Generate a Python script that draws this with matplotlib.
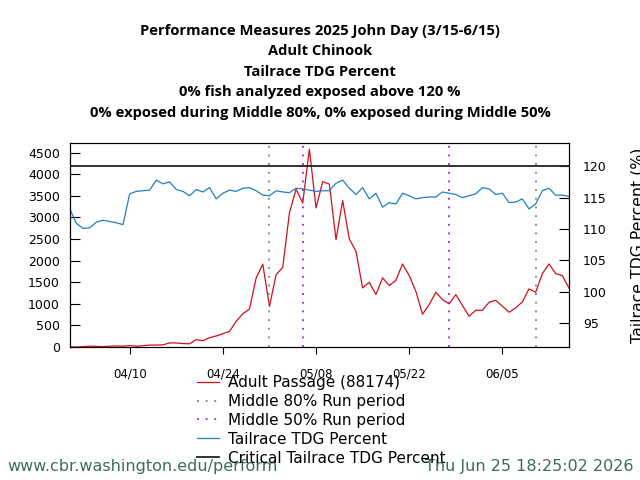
import datetime

import matplotlib
matplotlib.use('Agg')
import matplotlib.pyplot as plt
import matplotlib.dates as mdates

# Daily values, 04/01 through 06/15
start_date = datetime.date(2025, 4, 1)

adult_passage = [
    5, 0, 10, 20, 15, 10, 20, 25, 20, 35,
    20, 30, 45, 45, 50, 95, 95, 80, 75, 170,
    147, 217, 256, 309, 363, 594, 771, 879, 1596, 1920,
    940, 1673, 1844, 3100, 3655, 3330, 4580, 3218, 3826, 3772,
    2485, 3387, 2501, 2215, 1368, 1498, 1214, 1600, 1422, 1545,
    1923, 1653, 1290, 759, 982, 1267, 1098, 998, 1214, 959,
    712, 851, 851, 1036, 1082, 943, 805, 906, 1045, 1345,
    1267, 1699, 1923, 1699, 1653, 1368,
]

tailrace_tdg = [
    113.2, 110.9, 110.1, 110.2, 111.1, 111.4, 111.2, 111.0, 110.7, 115.6,
    116.0, 116.1, 116.2, 117.8, 117.2, 117.5, 116.3, 116.0, 115.3, 116.3,
    115.9, 116.6, 114.8, 115.7, 116.2, 116.0, 116.5, 116.6, 116.1, 115.4,
    115.3, 116.1, 115.9, 115.8, 116.5, 116.4, 116.2, 116.0, 116.1, 116.1,
    117.3, 117.8, 116.5, 115.5, 116.6, 114.8, 115.7, 113.5, 114.2, 114.0,
    115.7, 115.3, 114.8, 115.0, 115.1, 115.1, 115.9, 115.7, 115.5, 115.0,
    115.3, 115.6, 116.6, 116.4, 115.5, 115.7, 114.2, 114.3, 114.8, 113.2,
    114.0, 116.1, 116.5, 115.4, 115.4, 115.2,
]

critical_tdg = 120
middle_80 = [datetime.date(2025, 5, 1), datetime.date(2025, 6, 10)]
middle_50 = [datetime.date(2025, 5, 6), datetime.date(2025, 5, 28)]
tick_dates = [datetime.date(2025, 4, 10), datetime.date(2025, 4, 24),
              datetime.date(2025, 5, 8), datetime.date(2025, 5, 22),
              datetime.date(2025, 6, 5)]

title_lines = [
    'Performance Measures 2025 John Day (3/15-6/15)',
    'Adult Chinook',
    'Tailrace TDG Percent',
    '0% fish analyzed exposed above 120 %',
    '0% exposed during Middle 80%, 0% exposed during Middle 50%',
]

dates = [start_date + datetime.timedelta(days=i)
         for i in range(len(adult_passage))]

fig = plt.figure(figsize=(6.4, 4.8), dpi=100)
ax = fig.add_axes([0.109, 0.277, 0.780, 0.425])
ax2 = ax.twinx()

# Passage on the left axis
l_pass, = ax.plot(dates, adult_passage, color='#d0101a', lw=0.9)
l80 = None
for d in middle_80:
    l80 = ax.axvline(d, color='#808080', lw=1.3, ls=(0, (1, 3.8)))
l50 = None
for d in middle_50:
    l50 = ax.axvline(d, color='#9b1fe0', lw=1.3, ls=(0, (1, 3.8)))

# TDG on the right axis
l_tdg, = ax2.plot(dates, tailrace_tdg, color='#1f80c4', lw=0.9)
l_crit = ax2.axhline(critical_tdg, color='#222222', lw=1.3)

ax.set_xlim(dates[0], dates[-1])
ax.set_ylim(0, 4720)
ax2.set_ylim(91.2, 123.7)

ax.set_yticks(range(0, 5000, 500))
ax2.set_yticks(range(95, 125, 5))
ax.set_xticks(tick_dates)
ax.xaxis.set_major_formatter(mdates.DateFormatter('%m/%d'))

ax.tick_params(axis='y', direction='in', length=7, pad=7, labelsize=9)
ax2.tick_params(axis='y', direction='in', length=7, pad=10, labelsize=9)
ax.tick_params(axis='x', direction='out', length=5, pad=10, labelsize=8.5)
ax2.set_ylabel('Tailrace TDG Percent (%)', fontsize=11.3, labelpad=17)

fig.text(0.5, 0.951, '\n'.join(title_lines), ha='center', va='top',
         fontsize=10.6, fontweight='bold', family='Open Sans', linespacing=1.6)

fig.legend([l_pass, l80, l50, l_tdg, l_crit],
           ['Adult Passage (88174)', 'Middle 80% Run period',
            'Middle 50% Run period', 'Tailrace TDG Percent',
            'Critical Tailrace TDG Percent'],
           loc='upper left', bbox_to_anchor=(0.308, 0.219), frameon=False,
           fontsize=11, handlelength=1.45, handletextpad=0.6,
           labelspacing=0.26, borderpad=0, borderaxespad=0)

fig.text(0.012, 0.028, 'www.cbr.washington.edu/perform', fontsize=11.5,
         color='#3d6b5c', ha='left', va='center')
fig.text(0.99, 0.028, 'Thu Jun 25 18:25:02 2026', fontsize=11.5,
         color='#3d6b5c', ha='right', va='center')

fig.savefig('out.png', dpi=100)
